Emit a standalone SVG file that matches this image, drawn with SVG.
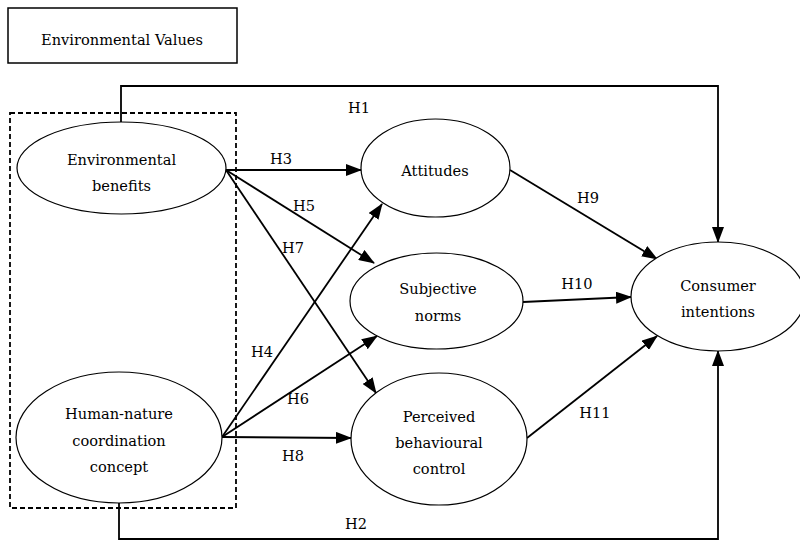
<svg xmlns="http://www.w3.org/2000/svg" width="800" height="541" viewBox="0 0 800 541">
<defs>
<marker id="arr" markerUnits="userSpaceOnUse" markerWidth="16" markerHeight="12" refX="15" refY="6" orient="auto">
<path d="M0,0 L16,6 L0,12 z" fill="#000"/>
</marker>
<style>
.node ellipse{fill:#fff;stroke:#000;stroke-width:1.2}
.conn line,.conn polyline{fill:none;stroke:#000;stroke-width:1.8}
.arr{marker-end:url(#arr)}
</style>
</defs>
<rect width="800" height="541" fill="#fff"/>
<g font-family="'DejaVu Serif', 'Liberation Serif', serif" font-size="14.6" text-anchor="middle" fill="#000">
<g id="env-values">
<rect x="8" y="8" width="229" height="55" fill="#fff" stroke="#000" stroke-width="1.5"/>
<text x="122" y="45">Environmental Values</text>
</g>
<g id="group-box">
<rect x="10" y="113" width="226" height="395" fill="none" stroke="#000" stroke-width="1.8" stroke-dasharray="5,3"/>
</g>
<g class="conn" id="connectors">
<polyline class="arr" points="121,122 121,86 718,86 718,242"/>
<polyline class="arr" points="119,503 119,539 718,539 718,351"/>
<line class="arr" x1="226" y1="170" x2="361" y2="170"/>
<line class="arr" x1="226" y1="170" x2="374" y2="263"/>
<line class="arr" x1="226" y1="170" x2="376" y2="393"/>
<line class="arr" x1="222" y1="437" x2="382" y2="204"/>
<line class="arr" x1="222" y1="437" x2="377" y2="336"/>
<line class="arr" x1="222" y1="437" x2="351" y2="438"/>
<line class="arr" x1="510" y1="170" x2="657" y2="259"/>
<line class="arr" x1="523" y1="302" x2="631" y2="297"/>
<line class="arr" x1="527" y1="438" x2="657" y2="336"/>
<text x="359" y="113">H1</text>
<text x="356" y="529">H2</text>
<text x="281" y="164">H3</text>
<text x="304" y="211">H5</text>
<text x="293" y="253">H7</text>
<text x="262" y="357">H4</text>
<text x="298" y="404">H6</text>
<text x="293" y="461">H8</text>
<text x="588" y="203">H9</text>
<text x="577" y="289">H10</text>
<text x="595" y="418">H11</text>
</g>
<g class="node" id="env-benefits">
<ellipse cx="121.5" cy="168" rx="104.5" ry="46"/>
<text x="121.5" y="165">Environmental</text>
<text x="121.5" y="191">benefits</text>
</g>
<g class="node" id="human-nature">
<ellipse cx="119" cy="437.5" rx="103" ry="65.5"/>
<text x="119" y="419">Human-nature</text>
<text x="119" y="446">coordination</text>
<text x="119" y="472">concept</text>
</g>
<g class="node" id="attitudes">
<ellipse cx="435.5" cy="168" rx="74.5" ry="49"/>
<text x="435" y="176">Attitudes</text>
</g>
<g class="node" id="subjective-norms">
<ellipse cx="436.5" cy="301" rx="86.5" ry="48"/>
<text x="438" y="294">Subjective</text>
<text x="438" y="321">norms</text>
</g>
<g class="node" id="pbc">
<ellipse cx="439" cy="439" rx="88" ry="66"/>
<text x="439" y="422">Perceived</text>
<text x="439" y="448">behavioural</text>
<text x="439" y="474">control</text>
</g>
<g class="node" id="consumer-intentions">
<ellipse cx="718" cy="296.5" rx="87" ry="54.5"/>
<text x="718" y="291">Consumer</text>
<text x="718" y="317">intentions</text>
</g>
</g>
</svg>
